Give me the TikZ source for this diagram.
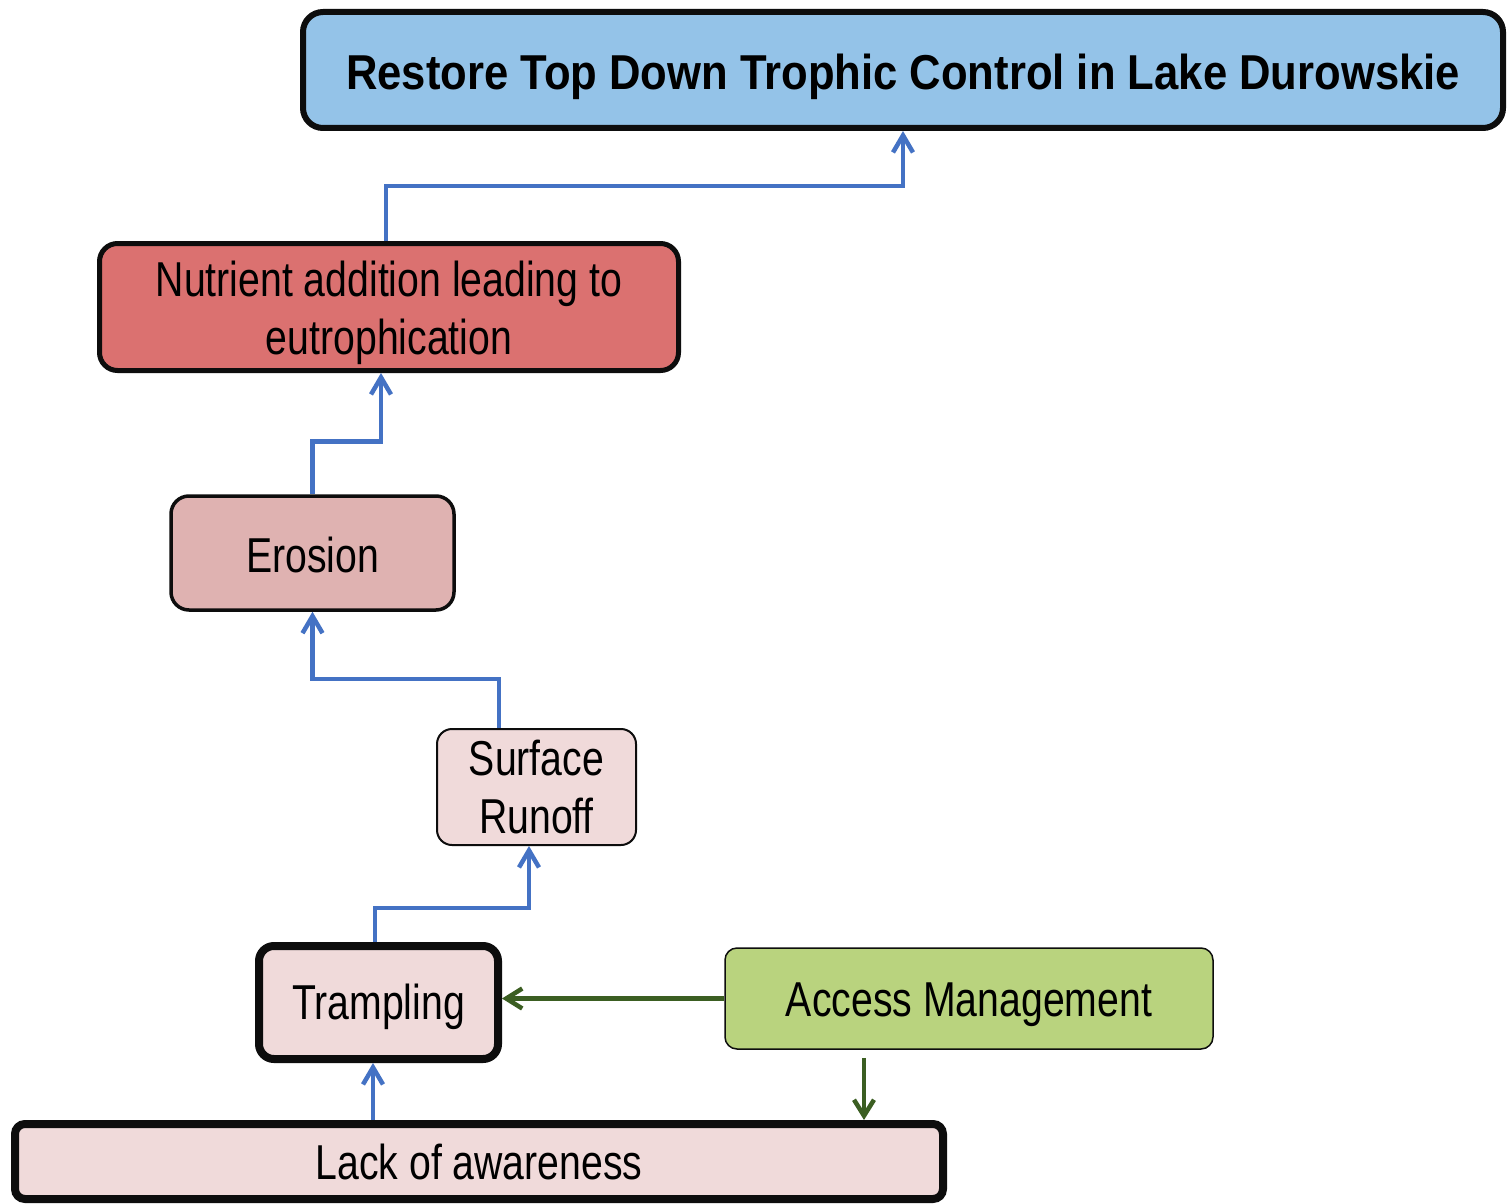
\documentclass[tikz,border=0pt]{standalone}
\usepackage{fontspec}
\setmainfont[FakeStretch=0.8]{Liberation Sans}
\newfontfamily\topfont[FakeStretch=0.89]{Liberation Sans Bold}
\usetikzlibrary{arrows.meta,calc}
\definecolor{topblue}{HTML}{94C3E8}
\definecolor{nutred}{HTML}{DB7170}
\definecolor{eropink}{HTML}{DFB2B1}
\definecolor{lightpink}{HTML}{F0DADA}
\definecolor{accgreen}{HTML}{B9D37E}
\definecolor{arrblue}{HTML}{4472C4}
\definecolor{arrgreen}{HTML}{3B5E22}
\tikzset{
  box/.style={draw=black!95, rounded corners=#1, inner sep=0pt, align=center,
    font=\fontsize{49pt}{58pt}\selectfont},
  bluearr/.style={draw=arrblue, line width=4.5pt, -{Straight Barb[length=17pt,width=20pt,line width=4.5pt]}},
  greenarr/.style={draw=arrgreen, line width=4.5pt, -{Straight Barb[length=16pt,width=20pt,line width=4.5pt]}},
}
\begin{document}
\begin{tikzpicture}[x=1pt,y=-1pt]
\useasboundingbox[fill=white] (0,0) rectangle (1507,1204);
\node[box=20pt, fill=topblue, line width=6pt, minimum width=1200pt, minimum height=116pt,
  font=\fontsize{49pt}{58pt}\topfont, text height=49pt] (top) at (903,70)
  {Restore Top Down Trophic Control in Lake Durowskie};
\node[box=18pt, fill=nutred, line width=5pt, minimum width=579pt, minimum height=127pt, text height=105pt] (nut) at (389,307)
  {Nutrient addition leading to\\eutrophication};
\node[box=18pt, fill=eropink, line width=3.5pt, minimum width=283pt, minimum height=114pt, text height=39pt] (ero) at (312.5,553)
  {Erosion};
\node[box=15pt, fill=lightpink, line width=2pt, minimum width=199pt, minimum height=116pt] (run) at (536.5,787)
  {Surface\\Runoff};
\node[box=15pt, fill=lightpink, line width=8pt, minimum width=239pt, minimum height=113pt, text height=45pt] (tra) at (378.5,1002.5)
  {Trampling};
\node[box=12pt, fill=accgreen, line width=1.5pt, minimum width=488pt, minimum height=101pt, text height=47pt] (acc) at (969,998.5)
  {Access Management};
\node[box=10pt, fill=lightpink, line width=8pt, minimum width=928pt, minimum height=75pt] (lack) at (479,1161.5)
  {Lack of awareness};
% blue connectors
\draw[bluearr] ([xshift=-3pt]nut.north) -- ++(0,-55) -| (top.south);
\draw[bluearr] (ero.north) -- ++(0,-53) -| ([xshift=-8pt]nut.south);
\draw[bluearr] ([xshift=-37.5pt]run.north) -- ++(0,-49) -| (ero.south);
\draw[bluearr] ([xshift=-3.5pt]tra.north) -- ++(0,-34) -| ([xshift=-7.5pt]run.south);
\draw[bluearr] ([xshift=-5.5pt]tra.south |- lack.north) -- ([xshift=-5.5pt]tra.south);
% green connectors
\draw[greenarr] (acc.west) -- (acc.west -| tra.east);
\draw[greenarr] ([xshift=-105pt,yshift=-8pt]acc.south) -- ([xshift=-105pt]acc.south |- lack.north);
\end{tikzpicture}
\end{document}
